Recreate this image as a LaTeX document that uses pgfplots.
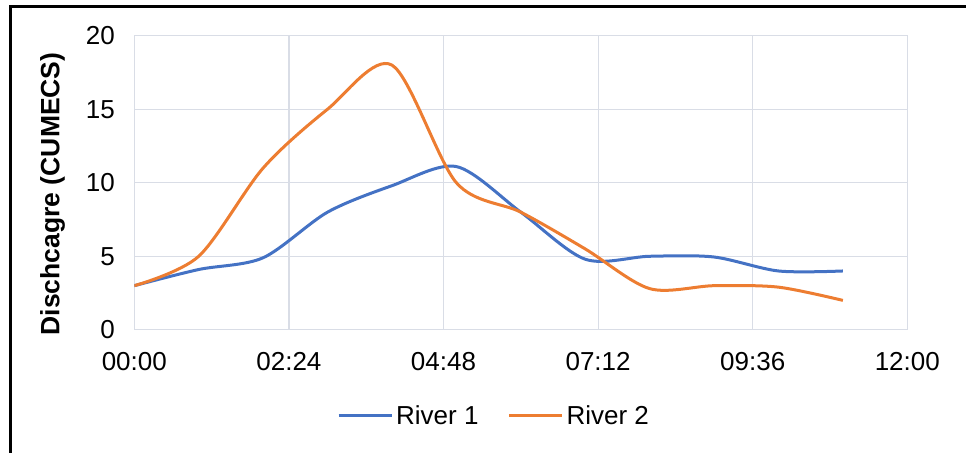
\documentclass[border=0pt]{standalone}
\usepackage{fontspec}
\setmainfont{Liberation Sans}
\usepackage{pgfplots}
\pgfplotsset{compat=1.18}
\definecolor{rblue}{HTML}{4472C4}
\definecolor{rorange}{HTML}{ED7D31}
\definecolor{gridc}{HTML}{D9DDE6}
\newcommand{\chartfont}{\fontsize{26bp}{31bp}\selectfont}
\begin{document}
\begin{tikzpicture}
\useasboundingbox (0,0) rectangle (966bp,453bp);
\draw[line width=3.5bp] (10.5bp,0) -- (10.5bp,446.5bp) -- (966bp,446.5bp);
\begin{axis}[
  at={(134.3bp,123.2bp)}, anchor=south west, scale only axis,
  width=773bp, height=294.1bp,
  xmin=0, xmax=12, ymin=0, ymax=20,
  xtick={0,2.4,4.8,7.2,9.6,12},
  xticklabels={00:00,02:24,04:48,07:12,09:36,12:00},
  ytick={0,5,10,15,20},
  grid=major, major grid style={gridc, line width=1.2bp},
  axis line style={gridc, line width=1.2bp},
  tick style={draw=none},
  /pgf/number format/assume math mode=true,
  tick label style={font=\chartfont},
  xticklabel style={yshift=-19bp},
  yticklabel style={xshift=-16bp},
  ylabel={Dischcagre (CUMECS)},
  ylabel style={at={(axis description cs:-0.1058,0.462)}, anchor=center, font=\fontsize{26.5bp}{31bp}\selectfont\bfseries},
  legend style={at={(axis description cs:0.466,-0.292)}, anchor=center, draw=none, fill=none,
    legend columns=2, font=\chartfont,
    nodes={inner sep=3bp},
    /tikz/every even column/.append style={column sep=26bp}},
  legend image code/.code={\draw[#1, line width=3bp] (0bp,0bp) -- (53bp,0bp);},
  every axis plot/.append style={line width=3bp, smooth, tension=0.5},
]
\addplot[rblue] coordinates {
 (0,3) (1,4.1) (2,4.9) (3,8) (4,9.8) (5,11.1) (6,8) (7,4.8) (8,5.0) (9,4.95) (10,4) (11,4)
};
\addlegendentry{River 1}
\addplot[rorange] coordinates {
 (0,3) (1,5) (2,11) (3,15) (4,18) (5,10) (6,8) (7,5.5) (8,2.8) (9,3.0) (10,2.9) (11,2)
};
\addlegendentry{River 2}
\end{axis}
\end{tikzpicture}
\end{document}
